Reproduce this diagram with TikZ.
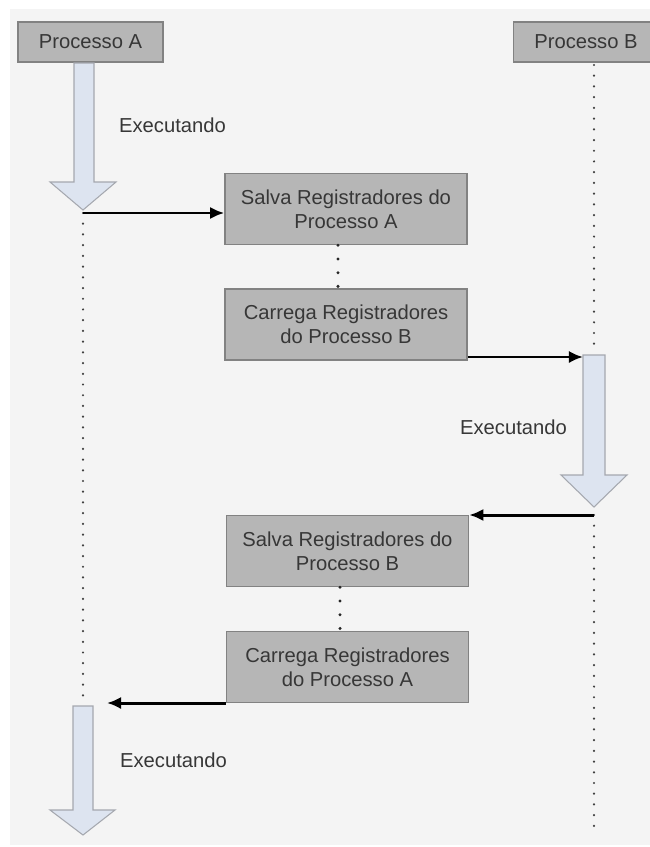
\documentclass[tikz,border=0pt]{standalone}
\usepackage{fontspec}
\setmainfont{Liberation Sans}
\usepackage{tikz}
\usetikzlibrary{arrows.meta}

\definecolor{boxfill}{RGB}{182,182,182}
\definecolor{boxline}{RGB}{130,130,130}
\definecolor{runfill}{RGB}{221,228,240}
\definecolor{runline}{RGB}{165,168,175}
\definecolor{txt}{RGB}{55,55,55}
\definecolor{bg}{RGB}{244,244,244}

\tikzset{
  proc/.style={rectangle,fill=boxfill,draw=boxline,line width=0.9pt,minimum width=2.9cm,minimum height=0.8cm,text=txt,font=\fontsize{11.5}{13.7}\selectfont},
  task/.style={rectangle,fill=boxfill,draw=boxline,line width=0.9pt,minimum width=4.84cm,minimum height=1.42cm,align=center,text=txt,font=\fontsize{11.5}{13.7}\selectfont},
  runarrow/.style={fill=runfill,draw=runline,line width=0.6pt},
  lbl/.style={text=txt,font=\fontsize{11.5}{13.7}\selectfont},
  life/.style={line width=1.4pt,line cap=round,dash pattern=on 0pt off 6.1pt,black!75},
  link/.style={line width=1.9pt,line cap=round,dash pattern=on 0pt off 7.8pt,black!85},
  msg/.style={line width=1.7pt,-{Latex[length=8pt,width=7pt]}}
}

\begin{document}
\begin{tikzpicture}

      \useasboundingbox (0,0) rectangle (13,-16.94);
      \clip (0,0) rectangle (13,-16.94);
      \fill[bg] (0.2,-0.18) rectangle (13,-16.9);

      % processos
      \node[proc] (PA) at (1.81,-0.84){Processo A};
      \node[proc] (PB) at (11.72,-0.84){Processo B};

      % trocas de contexto
      \node[task] (s1) at (6.92,-4.18){Salva Registradores do\\Processo A};
      \node[task] (s2) at (6.92,-6.49){Carrega Registradores\\do Processo B};
      \node[task] (s3) at (6.95,-11.02){Salva Registradores do\\Processo B};
      \node[task] (s4) at (6.95,-13.34){Carrega Registradores\\do Processo A};

      % setas de execucao
      \draw[runarrow] (1.48,-1.26) -- (1.88,-1.26) -- (1.88,-3.64) -- (2.32,-3.64) -- (1.66,-4.2) -- (1.0,-3.64) -- (1.48,-3.64) -- cycle;
      \draw[runarrow] (11.66,-7.1) -- (12.1,-7.1) -- (12.1,-9.5) -- (12.54,-9.5) -- (11.88,-10.14) -- (11.22,-9.5) -- (11.66,-9.5) -- cycle;
      \draw[runarrow] (1.46,-14.12) -- (1.86,-14.12) -- (1.86,-16.2) -- (2.3,-16.2) -- (1.66,-16.7) -- (1.0,-16.2) -- (1.46,-16.2) -- cycle;

      \node[lbl] (e1) at (3.45,-2.5){Executando};
      \node[lbl] (e2) at (10.27,-8.54){Executando};
      \node[lbl] (e3) at (3.47,-15.2){Executando};

      \coordinate (a1) at (1.66,-4.26);
      \coordinate (a2) at (1.66,-13.94);
      \coordinate (a3) at (2.14,-14.06);
      \coordinate (b0) at (11.88,-1.3);
      \coordinate (b1) at (11.88,-7.05);
      \coordinate (b2) at (11.66,-7.14);
      \coordinate (b3) at (11.88,-10.3);
      \coordinate (b4) at (11.88,-16.7);

      % linhas de vida
      \draw[life] (a1) -- (a2);
      \draw[life] (b0) -- (b1);
      \draw[life] (b3) -- (b4);
      \draw[link] ([xshift=-0.16cm]s1.south) -- ([xshift=-0.16cm]s2.north);
      \draw[link] ([xshift=-0.15cm]s3.south) -- ([xshift=-0.15cm]s4.north);

      % mensagens
      \draw[msg] (a1) -- (a1 -| s1.west);
      \draw[msg] (b2 -| s2.east) -- (b2);
      \draw[msg] (b3) -- (b3 -| s3.east);
      \draw[msg] (a3 -| s4.west) -- (a3);

    \end{tikzpicture}
\end{document}
